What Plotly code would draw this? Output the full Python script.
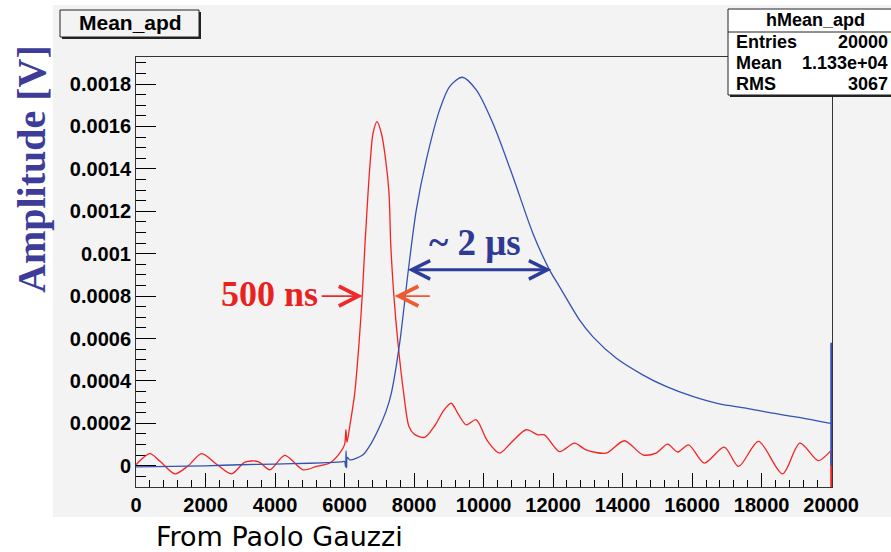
import plotly.graph_objects as go

# ---------------- data ----------------
red_x = [0, 150, 402, 700, 1121, 1500, 1887, 2300, 2750, 3132, 3515, 3851, 4282, 4808, 5192,
         5575, 5862, 6000, 6040, 6070, 6149, 6293, 6417, 6514, 6590, 6676, 6743, 6820, 6934,
         7060, 7184, 7280, 7328, 7414, 7538, 7701, 7854, 8000, 8305, 8600, 8850, 9071, 9250,
         9502, 9789, 10100, 10460, 10800, 11226, 11561, 11753, 12184, 12615, 12950, 13525,
         14052, 14578, 14962, 15296, 15584, 15900, 16351, 16925, 17337, 17911, 18601, 19100,
         19635, 19971, 20000]
red_y = [0.000005, 0.00003, 0.000057, 0.00002, -0.000038, 0.0, 0.000057, 0.00001, -0.000038,
         0.000017, 0.00002, -0.000019, 0.000049, -0.000019, -0.000003, 0.000013, 0.00006,
         0.0001, 0.00017, 0.00011, 0.000185, 0.000343, 0.000578, 0.000814, 0.00105, 0.001285,
         0.001442, 0.001568, 0.001623, 0.001568, 0.001442, 0.001285, 0.00105, 0.000814,
         0.000578, 0.000343, 0.000185, 0.00015, 0.000134, 0.00019, 0.00026, 0.000295, 0.00025,
         0.000193, 0.000217, 0.00012, 0.00006, 0.00011, 0.00017, 0.000146, 0.000146, 0.000067,
         0.000107, 0.000075, 0.00006, 0.000118, 0.000052, 0.00006, 0.000102, 0.000065,
         0.000099, 0.000013, 0.000088, -0.000003, 0.000115, -0.000038, 0.000107, 0.000024,
         0.000067, 0.00007]
# last bin edge: the red histogram drops to the bottom of the frame
red_end_x = [20000, 20000]
red_end_y = [0.00007, -0.0001]

blue_x = [0, 1000, 2000, 3000, 4000, 5000, 5900, 6000, 6030, 6045, 6060, 6080, 6149, 6532,
          6772, 7011, 7200, 7347, 7586, 7825, 8065, 8353, 8736, 9023, 9388, 9790, 10268,
          10843, 11417, 11897, 12184, 12759, 13141, 13813, 14578, 15249, 16015, 16782, 17548,
          18314, 19080, 19943, 20000]
blue_y = [-0.000005, -0.000003, 0.0, 0.000005, 0.000008, 0.000012, 0.000018, 0.00002,
          -0.000005, 0.00007, -0.00001, 0.00004, 0.000028, 0.000052, 0.000107, 0.000185,
          0.00026, 0.000343, 0.000578, 0.000908, 0.001207, 0.001442, 0.001678, 0.001788,
          0.001832, 0.001772, 0.001615, 0.001364, 0.001097, 0.000924, 0.000845, 0.000688,
          0.000609, 0.000508, 0.000429, 0.000374, 0.000327, 0.000292, 0.000272, 0.000248,
          0.000228, 0.000201, 0.0002]
# last bin edge: blue spike then back to zero
blue_end_x = [20000, 20000, 20000]
blue_end_y = [0.0002, 0.00058, 0.0]

x_ticks = [0, 2000, 4000, 6000, 8000, 10000, 12000, 14000, 16000, 18000, 20000]
x_tick_labels = ["0", "2000", "4000", "6000", "8000", "10000", "12000", "14000", "16000",
                 "18000", "20000"]
y_ticks = [0, 0.0002, 0.0004, 0.0006, 0.0008, 0.001, 0.0012, 0.0014, 0.0016, 0.0018]
y_tick_labels = ["0", "0.0002", "0.0004", "0.0006", "0.0008", "0.001", "0.0012", "0.0014",
                 "0.0016", "0.0018"]

stats_names = ["Entries", "Mean", "RMS"]
stats_values = ["20000", "1.133e+04", "3067"]

# ---------------- layout geometry ----------------
W, H = 891, 552
L, R, T, B = 136, 59, 57, 65
PW, PH = W - L - R, H - T - B


def px(x):
    return (x - L) / PW


def py(y):
    return (T + PH - y) / PH


BG = "#f3f3f3"
SANS = "Liberation Sans"
SERIF = "Liberation Serif"
RED = "#f52222"
BLUE = "#3452b2"

fig = go.Figure()
fig.add_trace(go.Scatter(x=red_x, y=red_y, mode="lines",
                         line=dict(color=RED, width=1.3, shape="spline", smoothing=0.8),
                         showlegend=False, hoverinfo="skip"))
fig.add_trace(go.Scatter(x=red_end_x, y=red_end_y, mode="lines",
                         line=dict(color=RED, width=1.8), showlegend=False, hoverinfo="skip"))
fig.add_trace(go.Scatter(x=blue_x, y=blue_y, mode="lines",
                         line=dict(color=BLUE, width=1.3, shape="spline", smoothing=0.8),
                         showlegend=False, hoverinfo="skip"))
fig.add_trace(go.Scatter(x=blue_end_x, y=blue_end_y, mode="lines",
                         line=dict(color=BLUE, width=1.8), showlegend=False, hoverinfo="skip"))

shapes = []
# grey canvas
shapes.append(dict(type="rect", xref="paper", yref="paper", x0=px(53), x1=px(900),
                   y0=py(5), y1=py(517), fillcolor=BG, line=dict(width=0), layer="below"))
# title box with shadow
shapes.append(dict(type="rect", xref="paper", yref="paper", x0=px(62), x1=px(201),
                   y0=py(12), y1=py(39), fillcolor="#222", line=dict(width=0)))
shapes.append(dict(type="rect", xref="paper", yref="paper", x0=px(60), x1=px(199),
                   y0=py(10), y1=py(37), fillcolor=BG, line=dict(color="#222", width=1)))
# stats box with shadow
shapes.append(dict(type="rect", xref="paper", yref="paper", x0=px(730), x1=px(905),
                   y0=py(11), y1=py(97), fillcolor="#222", line=dict(width=0)))
shapes.append(dict(type="rect", xref="paper", yref="paper", x0=px(728), x1=px(903),
                   y0=py(9), y1=py(95), fillcolor="white", line=dict(color="#222", width=1)))
shapes.append(dict(type="line", xref="paper", yref="paper", x0=px(728), x1=px(903),
                   y0=py(32), y1=py(32), line=dict(color="#222", width=1)))

annotations = []
annotations.append(dict(xref="paper", yref="paper", x=px(130), y=py(23), text="Mean_apd",
                        showarrow=False, xanchor="center", yanchor="middle",
                        font=dict(family=SANS, size=21, color="black", weight="bold")))
annotations.append(dict(xref="paper", yref="paper", x=px(815), y=py(20), text="hMean_apd",
                        showarrow=False, xanchor="center", yanchor="middle",
                        font=dict(family=SANS, size=18, color="black", weight="bold")))
row_y = [42, 63, 84]
for name, val, ry in zip(stats_names, stats_values, row_y):
    annotations.append(dict(xref="paper", yref="paper", x=px(734), y=py(ry), text=name,
                            showarrow=False, xanchor="left", yanchor="middle",
                            font=dict(family=SANS, size=18, color="black", weight="bold")))
    annotations.append(dict(xref="paper", yref="paper", x=px(890), y=py(ry), text=val,
                            showarrow=False, xanchor="right", yanchor="middle",
                            font=dict(family=SANS, size=18, color="black", weight="bold")))

# y axis title
annotations.append(dict(xref="paper", yref="paper", x=px(31), y=py(169), text="Amplitude [V]",
                        showarrow=False, textangle=-90, xanchor="center", yanchor="middle",
                        font=dict(family=SERIF, size=40, color="#3d3d99", weight="bold")))
# credit
annotations.append(dict(xref="paper", yref="paper", x=px(154), y=py(536),
                        text="From Paolo Gauzzi", showarrow=False, xanchor="left",
                        yanchor="middle", font=dict(family="DejaVu Sans", size=27,
                                                    color="black")))

# 500 ns arrows and label
annotations.append(dict(xref="x", yref="y", x=6520, y=0.0008, ax=5300, ay=0.0008,
                        axref="x", ayref="y", showarrow=True, arrowhead=5, arrowsize=2.4,
                        arrowwidth=1.6, arrowcolor="#f02828", text=""))
annotations.append(dict(xref="x", yref="y", x=7440, y=0.0008, ax=8500, ay=0.0008,
                        axref="x", ayref="y", showarrow=True, arrowhead=5, arrowsize=2.4,
                        arrowwidth=1.6, arrowcolor="#f05a30", text=""))
annotations.append(dict(xref="paper", yref="paper", x=px(269), y=py(294), text="500 ns",
                        showarrow=False, xanchor="center", yanchor="middle",
                        font=dict(family=SERIF, size=36, color="#e8231f", weight="bold")))
# ~2 us double arrow and label
annotations.append(dict(xref="x", yref="y", x=11945, y=0.000924, ax=7779, ay=0.000924,
                        axref="x", ayref="y", showarrow=True, arrowhead=5, startarrowhead=5,
                        arrowside="end+start", arrowsize=1.2, startarrowsize=1.2,
                        arrowwidth=3, arrowcolor="#2e3d9a", text=""))
annotations.append(dict(xref="paper", yref="paper", x=px(475), y=py(242), text="~ 2 μs",
                        showarrow=False, xanchor="center", yanchor="middle",
                        font=dict(family=SERIF, size=37, color="#2e3a94", weight="bold")))

tickfont = dict(family=SANS, size=20, color="black", weight="bold")

fig.update_layout(
    width=W, height=H,
    margin=dict(l=L, r=R, t=T, b=B, pad=0),
    paper_bgcolor="white", plot_bgcolor=BG,
    shapes=shapes, annotations=annotations,
    xaxis=dict(range=[0, 20025], tickvals=x_ticks, ticktext=x_tick_labels,
               ticks="inside", ticklen=14, tickwidth=1, tickcolor="black",
               showline=True, linecolor="#333", linewidth=1, mirror=True,
               showgrid=False, zeroline=False, tickfont=tickfont, layer="below traces",
               minor=dict(ticks="inside", ticklen=7, dtick=400, tick0=0, tickcolor="black",
                          showgrid=False)),
    yaxis=dict(range=[-0.0001, 0.0019275], tickvals=y_ticks, ticktext=y_tick_labels,
               ticks="inside", ticklen=20, tickwidth=1, tickcolor="black",
               showline=True, linecolor="#333", linewidth=1, mirror=True,
               showgrid=False, zeroline=False, tickfont=tickfont, layer="below traces",
               minor=dict(ticks="inside", ticklen=10, dtick=0.00005, tick0=0,
                          tickcolor="black", showgrid=False)),
)

fig.write_html("out.html", config={"displayModeBar": False},
               post_script="document.body.style.margin='0';")
